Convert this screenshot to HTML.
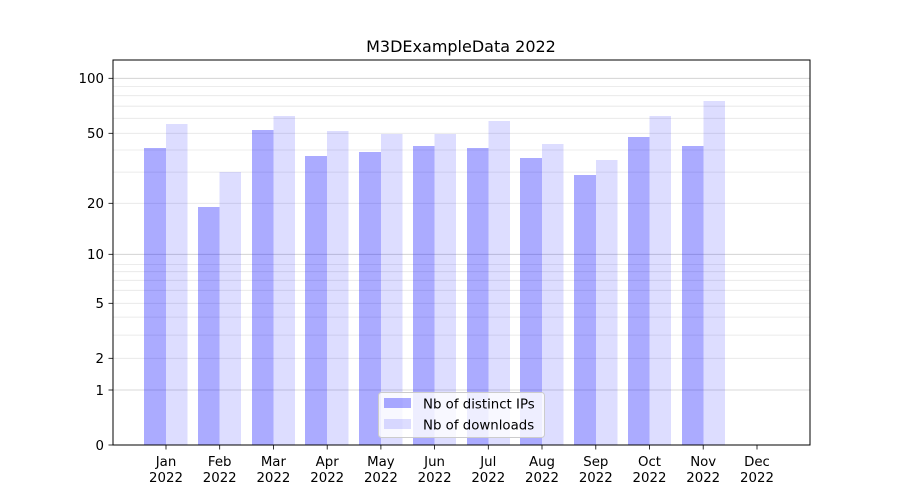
<!DOCTYPE html>
<html><head><meta charset="utf-8"><style>
html,body{margin:0;padding:0;background:#fff;}
svg{display:block;font-family:"DejaVu Sans","Liberation Sans",sans-serif;}
</style></head><body>
<svg width="900" height="500" viewBox="0 0 900 500" xmlns="http://www.w3.org/2000/svg">
<rect width="900" height="500" fill="#fff"/>
<text x="461" y="52" font-size="16" text-anchor="middle" fill="#000">M3DExampleData 2022</text>
<g stroke="#000" stroke-opacity="0.1" stroke-width="0.8">
<line x1="113" x2="810" y1="335.1" y2="335.1"/>
<line x1="113" x2="810" y1="317.1" y2="317.1"/>
<line x1="113" x2="810" y1="290.3" y2="290.3"/>
<line x1="113" x2="810" y1="280.3" y2="280.3"/>
<line x1="113" x2="810" y1="271.7" y2="271.7"/>
<line x1="113" x2="810" y1="264.4" y2="264.4"/>
<line x1="113" x2="810" y1="172.1" y2="172.1"/>
<line x1="113" x2="810" y1="150.0" y2="150.0"/>
<line x1="113" x2="810" y1="118.3" y2="118.3"/>
<line x1="113" x2="810" y1="106.2" y2="106.2"/>
<line x1="113" x2="810" y1="95.7" y2="95.7"/>
<line x1="113" x2="810" y1="86.5" y2="86.5"/>
<line x1="113" x2="810" y1="358.3" y2="358.3"/>
<line x1="113" x2="810" y1="303.3" y2="303.3"/>
<line x1="113" x2="810" y1="203.3" y2="203.3"/>
<line x1="113" x2="810" y1="133.3" y2="133.3"/>
</g>
<g stroke="#000" stroke-opacity="0.2" stroke-width="0.8">
<line x1="113" x2="810" y1="390" y2="390"/>
<line x1="113" x2="810" y1="254.3" y2="254.3"/>
<line x1="113" x2="810" y1="78.3" y2="78.3"/>
</g>
<g fill="#0000ff" fill-opacity="0.33">
<rect x="144" y="148" width="22" height="297"/>
<rect x="198" y="207" width="21.5" height="238"/>
<rect x="252" y="130" width="21.5" height="315"/>
<rect x="305" y="156" width="22" height="289"/>
<rect x="359" y="152" width="22" height="293"/>
<rect x="413" y="146" width="21.5" height="299"/>
<rect x="467" y="148" width="21.5" height="297"/>
<rect x="520" y="158" width="22" height="287"/>
<rect x="574" y="175" width="22" height="270"/>
<rect x="628" y="137" width="21.5" height="308"/>
<rect x="682" y="146" width="21.5" height="299"/>
</g>
<g fill="#0000ff" fill-opacity="0.135">
<rect x="166" y="124" width="21.5" height="321"/>
<rect x="219.5" y="172" width="21.5" height="273"/>
<rect x="273.5" y="116" width="21.5" height="329"/>
<rect x="327" y="131" width="21.5" height="314"/>
<rect x="381" y="134" width="21.5" height="311"/>
<rect x="434.5" y="134" width="21.5" height="311"/>
<rect x="488.5" y="121" width="21.5" height="324"/>
<rect x="542" y="144" width="21.5" height="301"/>
<rect x="596" y="160" width="21.5" height="285"/>
<rect x="649.5" y="116" width="21.5" height="329"/>
<rect x="703.5" y="101" width="21.5" height="344"/>
</g>
<rect x="113" y="60" width="697" height="385" fill="none" stroke="#000" stroke-width="1"/>
<g stroke="#000" stroke-width="0.8">
<line x1="108.5" x2="113" y1="445" y2="445"/><line x1="108.5" x2="113" y1="390" y2="390"/>
<line x1="108.5" x2="113" y1="358.3" y2="358.3"/><line x1="108.5" x2="113" y1="303.3" y2="303.3"/>
<line x1="108.5" x2="113" y1="254.3" y2="254.3"/><line x1="108.5" x2="113" y1="203.3" y2="203.3"/>
<line x1="108.5" x2="113" y1="133.3" y2="133.3"/><line x1="108.5" x2="113" y1="78.3" y2="78.3"/>
</g>
<g font-size="13.33" text-anchor="end" fill="#000">
<text x="104" y="450">0</text><text x="104" y="395">1</text><text x="104" y="363">2</text>
<text x="104" y="308">5</text><text x="104" y="259">10</text><text x="104" y="208">20</text>
<text x="104" y="138">50</text><text x="104" y="83">100</text>
</g>
<g stroke="#000" stroke-width="0.8">
<line x1="166" x2="166" y1="445" y2="449.5"/><line x1="219.7" x2="219.7" y1="445" y2="449.5"/>
<line x1="273.4" x2="273.4" y1="445" y2="449.5"/><line x1="327.2" x2="327.2" y1="445" y2="449.5"/>
<line x1="380.9" x2="380.9" y1="445" y2="449.5"/><line x1="434.6" x2="434.6" y1="445" y2="449.5"/>
<line x1="488.3" x2="488.3" y1="445" y2="449.5"/><line x1="542" x2="542" y1="445" y2="449.5"/>
<line x1="595.8" x2="595.8" y1="445" y2="449.5"/><line x1="649.5" x2="649.5" y1="445" y2="449.5"/>
<line x1="703.2" x2="703.2" y1="445" y2="449.5"/><line x1="757" x2="757" y1="445" y2="449.5"/>
</g>
<g font-size="13.33" text-anchor="middle" fill="#000">
<text x="166" y="466">Jan</text><text x="166" y="482">2022</text>
<text x="219.7" y="466">Feb</text><text x="219.7" y="482">2022</text>
<text x="273.4" y="466">Mar</text><text x="273.4" y="482">2022</text>
<text x="327.2" y="466">Apr</text><text x="327.2" y="482">2022</text>
<text x="380.9" y="466">May</text><text x="380.9" y="482">2022</text>
<text x="434.6" y="466">Jun</text><text x="434.6" y="482">2022</text>
<text x="488.3" y="466">Jul</text><text x="488.3" y="482">2022</text>
<text x="542" y="466">Aug</text><text x="542" y="482">2022</text>
<text x="595.8" y="466">Sep</text><text x="595.8" y="482">2022</text>
<text x="649.5" y="466">Oct</text><text x="649.5" y="482">2022</text>
<text x="703.2" y="466">Nov</text><text x="703.2" y="482">2022</text>
<text x="757" y="466">Dec</text><text x="757" y="482">2022</text>
</g>
<rect x="378.5" y="392.5" width="166" height="45" rx="3" fill="#fff" fill-opacity="0.8" stroke="#ccc" stroke-width="1"/>
<rect x="384" y="398" width="27" height="10" fill="#0000ff" fill-opacity="0.33"/>
<rect x="384" y="419" width="27" height="10" fill="#0000ff" fill-opacity="0.135"/>
<text x="423" y="408.5" font-size="13.33" fill="#000">Nb of distinct IPs</text>
<text x="423" y="429.5" font-size="13.33" fill="#000">Nb of downloads</text>
</svg>
</body></html>
